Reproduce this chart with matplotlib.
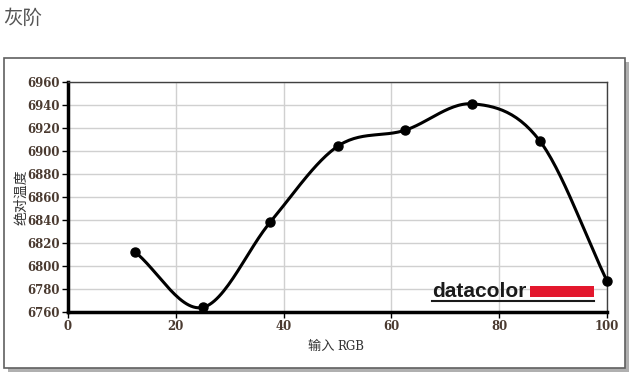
import numpy as np
import matplotlib.pyplot as plt
from matplotlib.patches import Rectangle

plt.rcParams['font.family'] = ['Noto Sans CJK SC', 'DejaVu Sans']

x_rgb = [12.5, 25, 37.5, 50, 62.5, 75, 87.5, 100]
temps = [6812, 6764, 6838, 6904, 6918, 6941, 6909, 6787]
x_ticks = [0, 20, 40, 60, 80, 100]
y_ticks = list(range(6760, 6961, 20))


def smooth(xs, ys, n=30):
    # catmull-rom through the points
    xs = np.array(xs, float)
    ys = np.array(ys, float)
    px = np.concatenate([[2 * xs[0] - xs[1]], xs, [2 * xs[-1] - xs[-2]]])
    py = np.concatenate([[2 * ys[0] - ys[1]], ys, [2 * ys[-1] - ys[-2]]])
    ox, oy = [], []
    t = np.linspace(0, 1, n)
    for i in range(1, len(px) - 2):
        for p, o in ((px, ox), (py, oy)):
            p0, p1, p2, p3 = p[i - 1], p[i], p[i + 1], p[i + 2]
            o.extend(0.5 * (2 * p1 + (-p0 + p2) * t + (2 * p0 - 5 * p1 + 4 * p2 - p3) * t ** 2
                            + (-p0 + 3 * p1 - 3 * p2 + p3) * t ** 3))
    return ox, oy


fig = plt.figure(figsize=(6.4, 3.81), dpi=100)
W, H = 640, 381

# panel with shadow
fig.patches.append(Rectangle((8 / W, 1 - 372 / H), 621 / W, 310 / H, transform=fig.transFigure,
                             facecolor='#b0b0b0', edgecolor='none', zorder=0))
fig.patches.append(Rectangle((4 / W, 1 - 368 / H), 621 / W, 310 / H, transform=fig.transFigure,
                             facecolor='white', edgecolor='#606060', linewidth=1.2, zorder=1))

fig.text(3 / W, 1 - 18 / H, '灰阶', fontsize=14, color='#555555', va='center', ha='left')

ax = fig.add_axes([68 / W, 1 - 312 / H, 539 / W, 230 / H])
ax.set_zorder(2)
sx, sy = smooth(x_rgb, temps)
ax.plot(sx, sy, color='black', linewidth=2.2, clip_on=False, zorder=3)
ax.plot(x_rgb, temps, 'o', color='black', markersize=6.5, clip_on=False, zorder=4)

ax.set_xlim(0, 100)
ax.set_ylim(6760, 6960)
ax.set_xticks(x_ticks)
ax.set_yticks(y_ticks)
ax.grid(True, color='#d0d0d0', linewidth=1)
ax.set_axisbelow(True)
for s in ['left', 'bottom']:
    ax.spines[s].set_linewidth(2.5)
    ax.spines[s].set_color('black')
for s in ['top', 'right']:
    ax.spines[s].set_linewidth(1)
    ax.spines[s].set_color('#404040')
ax.tick_params(length=4, width=1, colors='black', labelsize=8.5, labelcolor='#4a3a30', pad=2)
for lab in ax.get_xticklabels() + ax.get_yticklabels():
    lab.set_family(['DejaVu Serif'])
    lab.set_fontweight('bold')

fig.text(337 / W, 1 - 346 / H, '输入 ', fontsize=9.5, color='#333333', ha='right', va='center')
fig.text(337 / W, 1 - 346 / H, 'RGB', fontsize=8.5, color='#333333', ha='left', va='center',
         family=['DejaVu Serif'])
fig.text(21 / W, 1 - 197 / H, '绝对温度', fontsize=10, color='#333333', rotation=90,
         ha='center', va='center')

# datacolor logo
ax.text(0.675, 0.066, 'datacolor', transform=ax.transAxes, fontsize=15, fontweight='bold',
        color='#1a1a1a', ha='left', va='baseline', family=['Liberation Sans'], zorder=5)
ax.add_patch(Rectangle((0.857, 0.065), 0.119, 0.048, transform=ax.transAxes,
                       facecolor='#e3172d', edgecolor='none', zorder=5))
ax.plot([0.675, 0.976], [0.05, 0.05], transform=ax.transAxes, color='#1a1a1a',
        linewidth=1.5, zorder=5)

fig.savefig('out.png', dpi=100)
